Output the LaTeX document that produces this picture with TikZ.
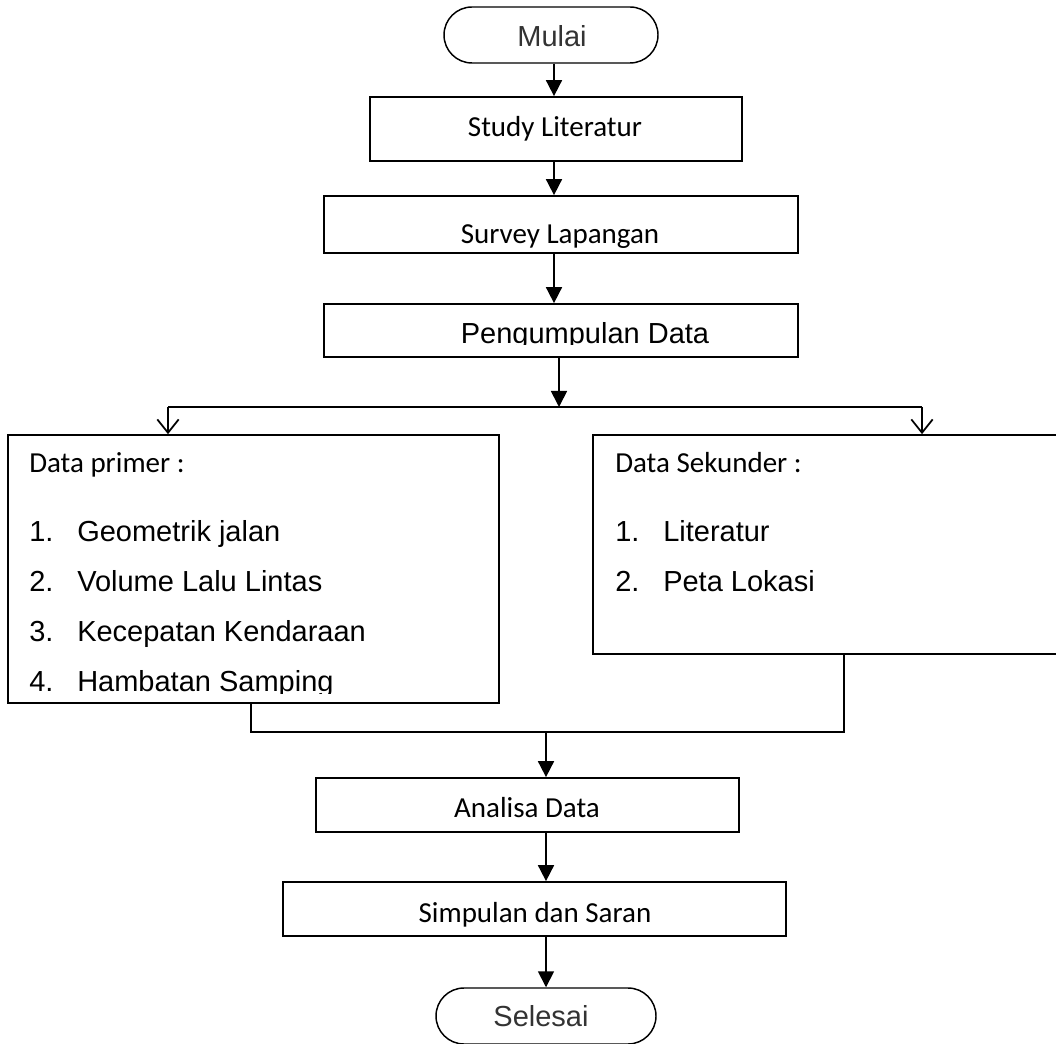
\documentclass[tikz,border=0pt]{standalone}
\usepackage{fontspec}
\setmainfont{Carlito}
\newfontfamily\arialf{Liberation Sans}
\usetikzlibrary{arrows.meta}
\begin{document}
\begin{tikzpicture}[x=0.75pt,y=-0.75pt,
  box/.style={draw, line width=1.3pt, rectangle, inner sep=0pt},
  term/.style={draw, line width=1.1pt, rectangle, rounded corners=21pt, inner sep=0pt},
  ctxt/.style={anchor=base, inner sep=0pt, font=\fontsize{21.75pt}{26pt}\selectfont},
  atxt/.style={anchor=base, inner sep=0pt, font=\arialf\fontsize{21.75pt}{26pt}\selectfont},
  ltxt/.style={anchor=base west, inner sep=0pt, font=\fontsize{21.75pt}{26pt}\selectfont},
  latxt/.style={anchor=base west, inner sep=0pt, font=\arialf\fontsize{21.75pt}{26pt}\selectfont},
  conn/.style={line width=1.3pt},
  arr/.style={conn, -{Triangle[width=12pt,length=12pt]}},
  vee/.style={conn, -{Straight Barb[width=16pt,length=10pt]}}]
\useasboundingbox (0,0) rectangle (1056,1044);

% boxes
\node[term, minimum width=160.5pt, minimum height=42pt] (mulai) at (551,35) {};
\node[box, minimum width=279pt, minimum height=48pt] (study) at (556,129) {};
\node[box, minimum width=355.5pt, minimum height=42.75pt] (survey) at (561,224.5) {};
\node[box, minimum width=355.5pt, minimum height=39.75pt] (peng) at (561,330.5) {};
\node[box, minimum width=368.25pt, minimum height=201pt] (primer) at (253.5,569) {};
\node[box, minimum width=351.75pt, minimum height=164.25pt] (sekunder) at (827.5,544.5) {};
\node[box, minimum width=317.25pt, minimum height=40.5pt] (analisa) at (527.5,805) {};
\node[box, minimum width=377.25pt, minimum height=40.5pt] (simpulan) at (534.5,909) {};
\node[term, minimum width=165pt, minimum height=42pt] (selesai) at (546,1016) {};

% texts
\node[atxt, text=black!80] (tmulai) at (552,46.7) {Mulai};
\node[ctxt] (tstudy) at (555,136.7) {Study Literatur};
\node[ctxt] (tsurvey) at (560,243.3) {Survey Lapangan};
\begin{scope}
  \clip (324,300) rectangle (798,345);
  \node[atxt] (tpeng) at (585,343.5) {Pengumpulan Data};
\end{scope}
\begin{scope}
  \clip (8,435) rectangle (499,693);
  \node[ltxt] (tprimer) at (29,473) {Data primer :};
  \node[latxt] (p1n) at (29,541.7) {1.};
  \node[latxt] (p1) at (77,541.7) {Geometrik jalan};
  \node[latxt] (p2n) at (29,591.7) {2.};
  \node[latxt] (p2) at (77,591.7) {Volume Lalu Lintas};
  \node[latxt] (p3n) at (29,641.7) {3.};
  \node[latxt] (p3) at (77,641.7) {Kecepatan Kendaraan};
  \node[latxt] (p4n) at (29,691.7) {4.};
  \node[latxt] (p4) at (77,691.7) {Hambatan Samping};
\end{scope}
\node[ltxt] (tsek) at (615,473) {Data Sekunder :};
\node[latxt] (s1n) at (615,541.7) {1.};
\node[latxt] (s1) at (663,541.7) {Literatur};
\node[latxt] (s2n) at (615,591.7) {2.};
\node[latxt] (s2) at (663,591.7) {Peta Lokasi};
\node[ctxt] (tanalisa) at (527,817) {Analisa Data};
\node[ctxt] (tsimpulan) at (535,922) {Simpulan dan Saran};
\node[atxt, text=black!80] (tselesai) at (541,1026) {Selesai};

% connector coordinates
\coordinate (c1) at (554,0);
\coordinate (sM) at (559,407);
\coordinate (sL) at (168,407);
\coordinate (sR) at (922,407);
\coordinate (jL) at (251,732);
\coordinate (jR) at (844,732);
\coordinate (jM) at (546,732);

% connectors
\draw[arr] (mulai.south -| c1) -- (study.north -| c1);
\draw[arr] (study.south -| c1) -- (survey.north -| c1);
\draw[arr] (survey.south -| c1) -- (peng.north -| c1);
\draw[arr] (peng.south -| sM) -- (sM);
\draw[conn] (sL) -- (sR);
\draw[vee] (sL) -- (primer.north -| sL);
\draw[vee] (sR) -- (sekunder.north -| sR);
\draw[conn] (primer.south -| jL) -- (jL) -- (jR) -- (sekunder.south -| jR);
\draw[arr] (jM) -- (analisa.north -| jM);
\draw[arr] (analisa.south -| jM) -- (simpulan.north -| jM);
\draw[arr] (simpulan.south -| jM) -- (selesai.north -| jM);
\end{tikzpicture}
\end{document}
